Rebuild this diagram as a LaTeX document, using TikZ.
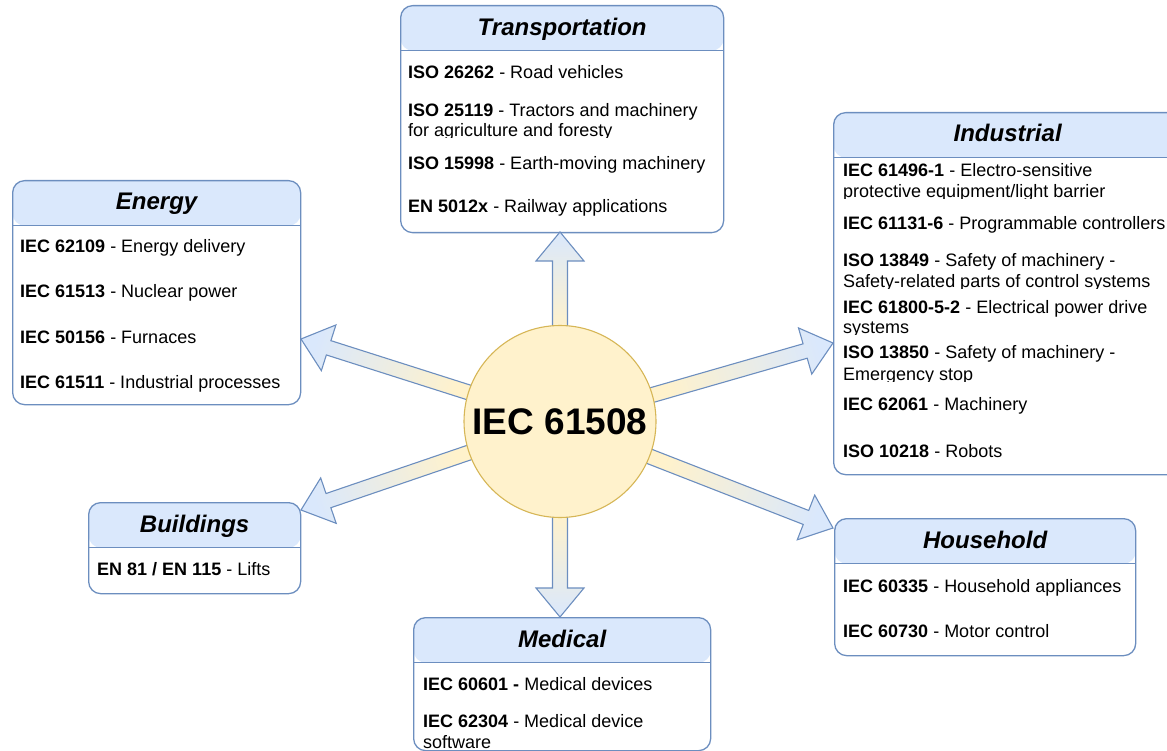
\documentclass[tikz,border=0pt]{standalone}
\usepackage{fontspec}
\setmainfont{Liberation Sans}
\usetikzlibrary{calc}

\definecolor{hdr}{HTML}{DAE8FC}
\definecolor{edge}{HTML}{6C8EBF}
\definecolor{corefill}{HTML}{FFF2CC}
\definecolor{coreedge}{HTML}{D6B656}

% Broad block arrow from the hub (#1) to a tip coordinate (#2);
% #3 turns the yellow-to-blue gradient so that blue sits at the tip.
\newcommand\flexarrow[3]{%
  \coordinate (fa-s) at ($(#1)!93pt!(#2)$);
  \coordinate (fa-h) at ($(#2)!29pt!(fa-s)$);
  \draw[flexarrowstyle, shading angle=#3]
    ($(fa-s)!7.5pt!90:(#2)$) -- ($(fa-h)!7.5pt!90:(#2)$) -- ($(fa-h)!24pt!90:(#2)$)
    -- (#2)
    -- ($(fa-h)!24pt!-90:(#2)$) -- ($(fa-h)!7.5pt!-90:(#2)$) -- ($(fa-s)!7.5pt!-90:(#2)$)
    -- cycle;
}

\begin{document}
\begin{tikzpicture}[x=1pt,y=-1pt,
  box/.style={draw=edge, line width=1.3pt, rounded corners=12pt, fill=white,
    inner sep=0pt, anchor=north west,
    path picture={
      \fill[hdr] (path picture bounding box.north west)
        rectangle ([yshift=-45pt]path picture bounding box.north east);
      \draw[edge, line width=1.3pt] ([yshift=-45pt]path picture bounding box.north west)
        -- ([yshift=-45pt]path picture bounding box.north east);
    }},
  title/.style={anchor=base, inner sep=0pt, font=\fontsize{24}{28}\selectfont\bfseries\itshape},
  entry/.style={anchor=base west, inner sep=0pt, font=\fontsize{18}{21}\selectfont},
  flexarrowstyle/.style={draw=edge, line width=1.1pt, line join=miter,
    top color=hdr, bottom color=corefill},
  hub/.style={circle, draw=coreedge, line width=1.1pt, fill=corefill,
    minimum size=192pt, inner sep=0pt, font=\fontsize{37}{40}\selectfont\bfseries}
]
\clip (0,0) rectangle (1167,751);

% ---------- Transportation ----------
\node[box, minimum width=323pt, minimum height=227pt] (trans) at (400,5) {};
\node[title] (trans-t) at ([yshift=-31pt]trans.north) {Transportation};
\node[entry] (tr1) at (408,79) {\textbf{ISO 26262} - Road vehicles};
\begin{scope}
  \clip (404,95) rectangle (720,138);
  \node[entry] (tr2) at (408,117) {\textbf{ISO 25119} - Tractors and machinery};
  \node[entry] (tr2b) at (408,137) {for agriculture and foresty};
\end{scope}
\node[entry] (tr3) at (408,170) {\textbf{ISO 15998} - Earth-moving machinery};
\node[entry] (tr4) at (408,213) {\textbf{EN 5012x} - Railway applications};

% ---------- Industrial ----------
\node[box, minimum width=348pt, minimum height=362pt] (ind) at (833,112) {};
\node[title] (ind-t) at ([yshift=-30pt]ind.north) {Industrial};
\begin{scope}
  \clip (838,158) rectangle (1167,199);
  \node[entry] (in1) at (843,177) {\textbf{IEC 61496-1} - Electro-sensitive};
  \node[entry] (in1b) at (843,198) {protective equipment/light barrier};
\end{scope}
\node[entry] (in2) at (843,230) {\textbf{IEC 61131-6} - Programmable controllers};
\begin{scope}
  \clip (838,247) rectangle (1167,289);
  \node[entry] (in3) at (843,267) {\textbf{ISO 13849} - Safety of machinery -};
  \node[entry] (in3b) at (843,288) {Safety-related parts of control systems};
\end{scope}
\begin{scope}
  \clip (838,291) rectangle (1167,334);
  \node[entry] (in4) at (843,313) {\textbf{IEC 61800-5-2} - Electrical power drive};
  \node[entry] (in4b) at (843,333) {systems};
\end{scope}
\begin{scope}
  \clip (838,337) rectangle (1167,381);
  \node[entry] (in5) at (843,358) {\textbf{ISO 13850} - Safety of machinery -};
  \node[entry] (in5b) at (843,380) {Emergency stop};
\end{scope}
\node[entry] (in6) at (843,410) {\textbf{IEC 62061} - Machinery};
\node[entry] (in7) at (843,457) {\textbf{ISO 10218} - Robots};

% ---------- Energy ----------
\node[box, minimum width=288pt, minimum height=224pt] (energy) at (12,180) {};
\node[title] (energy-t) at ([yshift=-30pt]energy.north) {Energy};
\node[entry] (en1) at (20,253) {\textbf{IEC 62109} - Energy delivery};
\node[entry] (en2) at (20,298) {\textbf{IEC 61513} - Nuclear power};
\node[entry] (en3) at (20,343) {\textbf{IEC 50156} - Furnaces};
\node[entry] (en4) at (20,388) {\textbf{IEC 61511} - Industrial processes};

% ---------- Buildings ----------
\node[box, minimum width=212pt, minimum height=91pt] (build) at (88,502) {};
\node[title] (build-t) at ([yshift=-30pt]build.north) {Buildings};
\node[entry] (bu1) at (97,575) {\textbf{EN 81 / EN 115} - Lifts};

% ---------- Medical ----------
\node[box, minimum width=297pt, minimum height=133pt] (med) at (413,617) {};
\node[title] (med-t) at ([yshift=-30pt]med.north) {Medical};
\node[entry] (me1) at (423,690) {\textbf{IEC 60601 -} Medical devices};
\node[entry] (me2) at (423,727) {\textbf{IEC 62304} - Medical device};
\node[entry] (me2b) at (423,748) {software};

% ---------- Household ----------
\node[box, minimum width=301pt, minimum height=137pt] (house) at (834,518) {};
\node[title] (house-t) at ([yshift=-30pt]house.north) {Household};
\node[entry] (ho1) at (843,592) {\textbf{IEC 60335} - Household appliances};
\node[entry] (ho2) at (843,637) {\textbf{IEC 60730} - Motor control};

% ---------- hub and block arrows ----------
\coordinate (core) at (560,421.5);
\coordinate (tipT) at (560,232);
\coordinate (tipM) at (560,617);
\coordinate (tipE) at (301,339);
\coordinate (tipB) at (301,510);
\coordinate (tipI) at (833,343);
\coordinate (tipH) at (833,528);

\flexarrow{core}{tipT}{0}
\flexarrow{core}{tipM}{180}
\flexarrow{core}{tipE}{72.3}
\flexarrow{core}{tipB}{108.9}
\flexarrow{core}{tipI}{-74}
\flexarrow{core}{tipH}{-111.3}

\node[hub] (hub) at (core) {IEC 61508};
\end{tikzpicture}
\end{document}
